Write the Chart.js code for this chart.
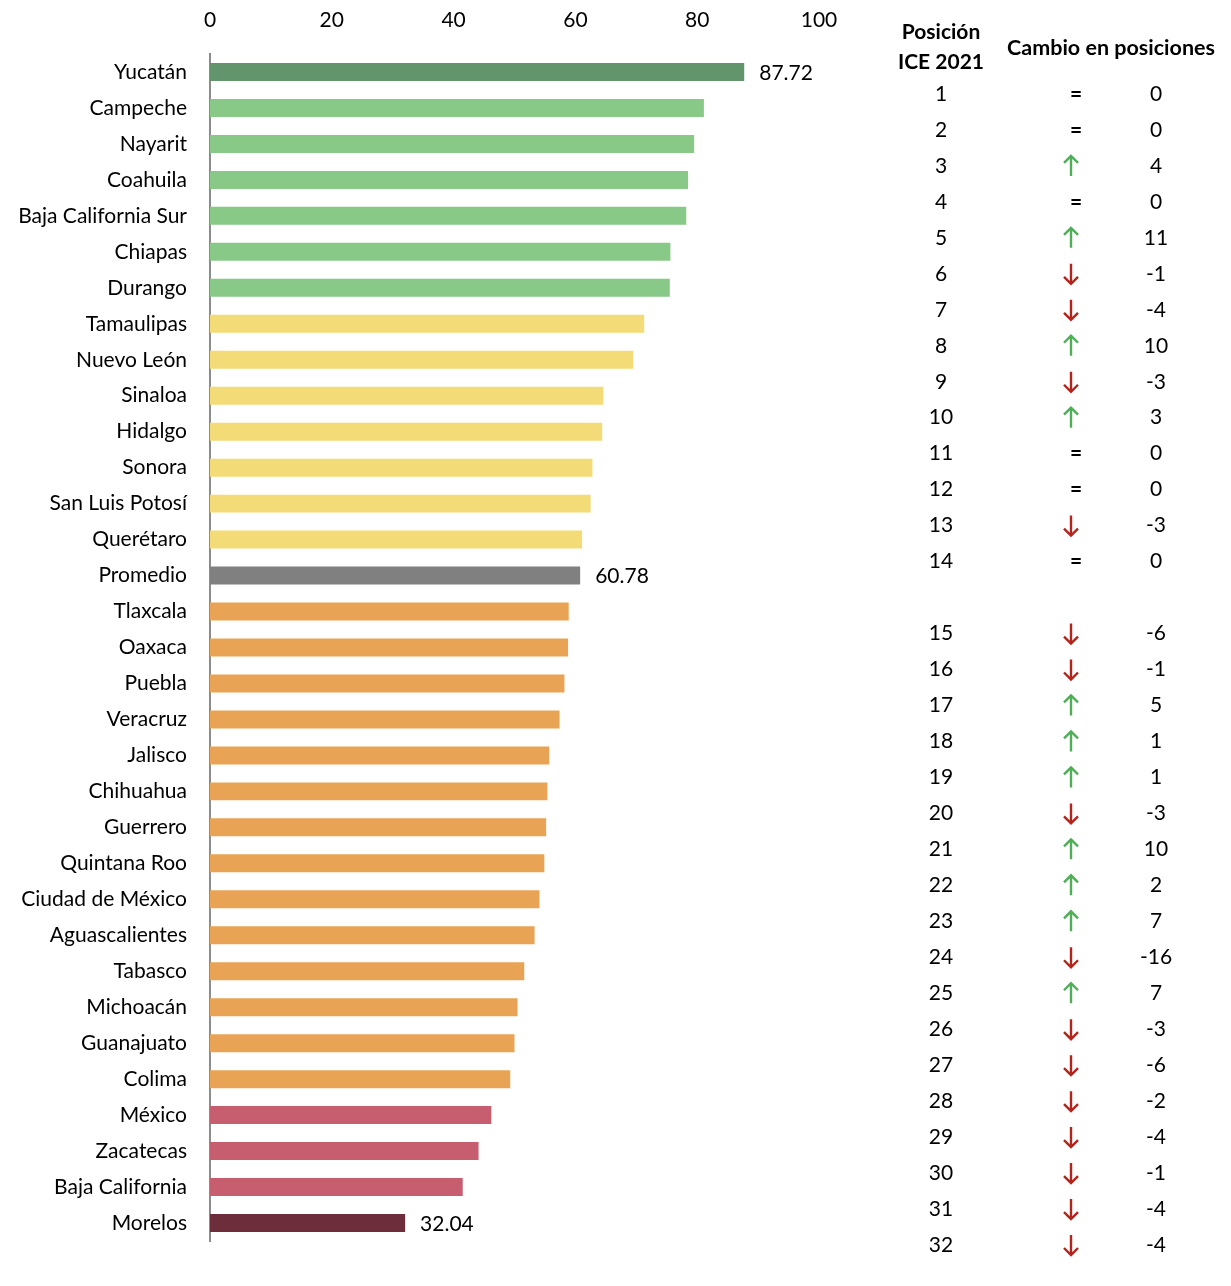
<!DOCTYPE html>
<html>
<head>
<meta charset="utf-8">
<script src="https://cdn.jsdelivr.net/npm/chart.js@4.4.0/dist/chart.umd.min.js"></script>
<style>
  body { margin: 0; background: #fff; }
  #wrap { width: 1231px; height: 1286px; }
</style>
</head>
<body>
<div id="wrap"><canvas id="iceChart"></canvas></div>
<script>
const estados = ['Yucatán', 'Campeche', 'Nayarit', 'Coahuila', 'Baja California Sur', 'Chiapas', 'Durango',
    'Tamaulipas', 'Nuevo León', 'Sinaloa', 'Hidalgo', 'Sonora', 'San Luis Potosí', 'Querétaro', 'Promedio',
    'Tlaxcala', 'Oaxaca', 'Puebla', 'Veracruz', 'Jalisco', 'Chihuahua', 'Guerrero', 'Quintana Roo',
    'Ciudad de México', 'Aguascalientes', 'Tabasco', 'Michoacán', 'Guanajuato', 'Colima', 'México',
    'Zacatecas', 'Baja California', 'Morelos'];

const valores = [87.72, 81.1, 79.5, 78.5, 78.2, 75.6, 75.5, 71.3, 69.5, 64.6, 64.4, 62.8, 62.5, 61.1, 60.78,
    58.9, 58.8, 58.2, 57.4, 55.7, 55.4, 55.2, 54.9, 54.1, 53.3, 51.6, 50.5, 50.0, 49.3, 46.2, 44.1, 41.5, 32.04];

const colores = ['#62956b', '#89c987', '#89c987', '#89c987', '#89c987', '#89c987', '#89c987',
    '#f3dc77', '#f3dc77', '#f3dc77', '#f3dc77', '#f3dc77', '#f3dc77', '#f3dc77', '#808080',
    '#e8a454', '#e8a454', '#e8a454', '#e8a454', '#e8a454', '#e8a454', '#e8a454', '#e8a454',
    '#e8a454', '#e8a454', '#e8a454', '#e8a454', '#e8a454', '#e8a454', '#c75e70',
    '#c75e70', '#c75e70', '#6e2d3a'];

const xTicks = [0, 20, 40, 60, 80, 100];

// only these bars get a value label
const etiquetados = ['Yucatán', 'Promedio', 'Morelos'];

const posiciones = [1, 2, 3, 4, 5, 6, 7, 8, 9, 10, 11, 12, 13, 14, 15, 16, 17, 18, 19, 20, 21, 22, 23, 24,
    25, 26, 27, 28, 29, 30, 31, 32];
const cambios = [0, 0, 4, 0, 11, -1, -4, 10, -3, 3, 0, 0, -3, 0, -6, -1, 5, 1, 1, -3, 10, 2, 7, -16, 7, -3,
    -6, -2, -4, -1, -4, -4];

const FONT = 'Lato, "Noto Sans", sans-serif';

const valueLabels = {
    id: 'valueLabels',
    afterDatasetsDraw(chart) {
        const ctx = chart.ctx;
        const meta = chart.getDatasetMeta(0);
        ctx.save();
        ctx.font = '21px ' + FONT;
        ctx.fillStyle = '#000';
        ctx.textAlign = 'left';
        ctx.textBaseline = 'middle';
        estados.forEach((e, i) => {
            if (!etiquetados.includes(e)) return;
            const bar = meta.data[i];
            ctx.fillText(valores[i].toFixed(2), bar.x + 15, bar.y + 1);
        });
        ctx.restore();
    }
};

function drawArrow(ctx, x, y, up, color) {
    const h = 10, w = 7;
    ctx.save();
    ctx.strokeStyle = color;
    ctx.lineWidth = 2.4;
    ctx.beginPath();
    ctx.moveTo(x, y - h);
    ctx.lineTo(x, y + h);
    const tip = up ? y - h : y + h;
    const d = up ? 1 : -1;
    ctx.moveTo(x - w, tip + d * w);
    ctx.lineTo(x, tip);
    ctx.lineTo(x + w, tip + d * w);
    ctx.stroke();
    ctx.restore();
}

const tablaPosiciones = {
    id: 'tablaPosiciones',
    afterDraw(chart) {
        const ctx = chart.ctx;
        const y = chart.scales.y;
        const colPos = 941, colFlecha = 1071, colCambio = 1156;
        ctx.save();
        ctx.fillStyle = '#000';
        ctx.textAlign = 'center';
        ctx.textBaseline = 'middle';
        ctx.font = 'bold 21px ' + FONT;
        ctx.fillText('Posición', colPos, 32);
        ctx.fillText('ICE 2021', colPos, 62);
        ctx.font = 'bold 21.5px ' + FONT;
        ctx.fillText('Cambio en posiciones', 1111, 48);

        posiciones.forEach((p, i) => {
            // the table skips the row of "Promedio"
            const fila = i < 14 ? i : i + 1;
            const yy = y.getPixelForValue(fila) + 22;
            const c = cambios[i];
            ctx.font = '21px ' + FONT;
            ctx.fillStyle = '#000';
            ctx.fillText(String(p), colPos, yy);
            ctx.fillText(String(c), colCambio, yy);
            if (c > 0) {
                drawArrow(ctx, colFlecha, yy, true, '#4fae57');
            } else if (c < 0) {
                drawArrow(ctx, colFlecha, yy, false, '#b3241c');
            } else {
                ctx.font = 'bold 21px ' + FONT;
                ctx.fillText('=', colFlecha + 5, yy);
            }
        });
        ctx.restore();
    }
};

new Chart(document.getElementById('iceChart'), {
    type: 'bar',
    data: {
        labels: estados,
        datasets: [{
            data: valores,
            backgroundColor: colores,
            barPercentage: 0.5,
            categoryPercentage: 1.0
        }]
    },
    options: {
        indexAxis: 'y',
        responsive: true,
        maintainAspectRatio: false,
        animation: false,
        layout: { padding: { left: 0, right: 412, top: 0, bottom: 45 } },
        plugins: {
            legend: { display: false },
            tooltip: { enabled: false }
        },
        scales: {
            x: {
                position: 'top',
                min: 0,
                max: 100,
                afterBuildTicks: scale => { scale.ticks = xTicks.map(v => ({ value: v })); },
                afterFit: scale => { scale.height = 54; },
                grid: { display: false },
                border: { display: false },
                ticks: {
                    color: '#000',
                    padding: 13,
                    font: { family: FONT, size: 21 }
                }
            },
            y: {
                afterFit: scale => { scale.width = 210; },
                grid: { display: false },
                border: { display: true, color: '#8c8c8c', width: 2 },
                ticks: {
                    color: '#000',
                    padding: 15,
                    autoSkip: false,
                    font: { family: FONT, size: 21 }
                }
            }
        }
    },
    plugins: [valueLabels, tablaPosiciones]
});
</script>
</body>
</html>
